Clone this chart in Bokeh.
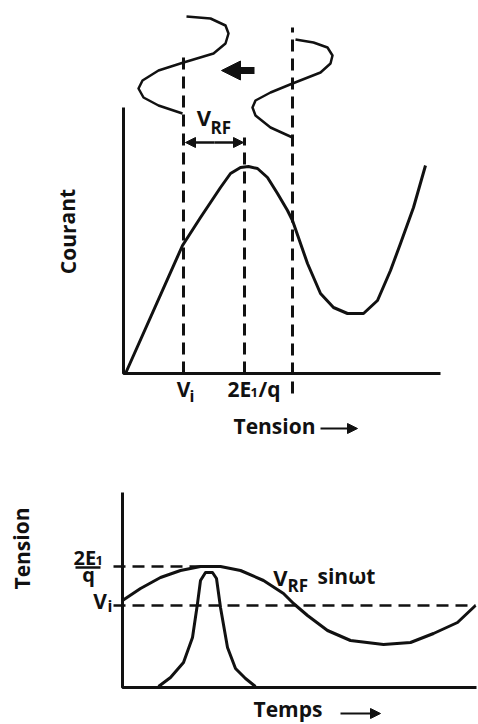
from bokeh.plotting import figure
from bokeh.models import Range1d, Arrow, NormalHead
from bokeh.layouts import column
from bokeh.core.properties import value
from bokeh.embed import file_html
from bokeh.resources import INLINE

FONT = "Open Sans"
INK = "#111111"

# ---------------- top panel: Courant vs Tension ----------------
top_axis_x = [0, 0, 317]
top_axis_y = [266, 0, 0]

# current-voltage characteristic
iv_tension = [2, 59, 77, 97, 107, 117, 125, 134, 144, 154, 164, 169, 184, 197, 210, 224, 240, 254, 267, 277, 290, 302]
iv_courant = [0, 128, 156, 186, 200, 206, 207, 205, 196, 180, 163, 153, 110, 80, 66, 60, 60, 73, 103, 130, 166, 208]

# dashed markers: V_i, 2E1/q, upper swing
mark_x = [60, 121, 169]
mark_top = [323, 236, 346]
mark_bottom = [0, 0, -20]

# RF sine sketches (drawn vertically above the characteristic)
wave1_x = [63, 87, 102, 105, 102, 90, 60, 35, 19, 15, 20, 35, 59]
wave1_y = [357, 355, 348, 340, 330, 320, 311, 303, 293, 285, 276, 268, 260]
wave2_x = [172, 190, 204, 209, 207, 197, 169, 147, 132, 129, 132, 147, 169]
wave2_y = [334, 331, 326, 318, 310, 301, 290, 281, 273, 266, 258, 246, 236]

# ---------------- bottom panel: Tension vs Temps ----------------
bot_axis_x = [0, 0, 354]
bot_axis_y = [195, 0, 0]

rf_temps = [0, 18, 38, 58, 78, 98, 118, 141, 161, 171, 185, 205, 228, 261, 288, 311, 335, 353]
rf_tension = [87, 99, 110, 117, 121, 121, 117, 107, 94, 84, 72, 57, 47, 43, 45, 54, 65, 82]

pulse_temps = [36, 48, 61, 70, 75, 78, 83, 90, 94, 98, 105, 113, 123, 133]
pulse_amp = [1, 10, 25, 50, 84, 107, 115, 115, 109, 80, 40, 19, 9, 1]

level_names = ["2E1/q", "Vi"]
level_y = [121, 82]
level_x0 = [-9, -9]
level_x1 = [80, 353]


def base_fig(h, xr, yr):
    p = figure(width=478, height=h, x_range=Range1d(*xr), y_range=Range1d(*yr),
               x_axis_location=None, y_axis_location=None, toolbar_location=None,
               output_backend="svg", min_border=0, outline_line_color=None,
               background_fill_color="white", border_fill_color="white")
    p.grid.visible = False
    return p


def txt(p, x, y, s, size, align="left", baseline="alphabetic", angle=0.0):
    if baseline == "alphabetic":
        y = y + 0.3 * size
    p.text(x=[x], y=[y], text=[s], text_font=value(FONT), text_font_style="bold",
           text_font_size=f"{size}px", text_align=align, text_baseline=baseline,
           angle=angle, text_color=INK)


def arrow(p, x0, y0, x1, y1, lw, hs):
    p.add_layout(Arrow(x_start=x0, y_start=y0, x_end=x1, y_end=y1, line_width=lw,
                       line_color=INK,
                       end=NormalHead(size=hs, fill_color=INK, line_color=INK, line_width=1)))


# ---- top ----
top = base_fig(450, (-123, 355), (-77, 373))
top.line(top_axis_x, top_axis_y, line_width=3, line_color=INK)
top.line(iv_tension, iv_courant, line_width=3, line_color=INK, line_join="round")
top.segment(x0=mark_x, y0=mark_bottom, x1=mark_x, y1=mark_top, line_width=3,
            line_color=INK, line_dash="12 7")
top.line(wave1_x, wave1_y, line_width=2.5, line_color=INK, line_join="round")
top.line(wave2_x, wave2_y, line_width=2.5, line_color=INK, line_join="round")

arrow(top, 131, 303, 98, 303, 7, 19)
arrow(top, 91, 231, mark_x[0] + 2, 231, 2.5, 10)
arrow(top, 91, 231, mark_x[1] - 1, 231, 2.5, 10)

txt(top, 80.5, 250, "V", 22, align="center")
txt(top, 87, 241, "RF", 17)
txt(top, mark_x[0], -22, "V", 21, align="center")
txt(top, 66, -27, "i", 16)
txt(top, 104, -22, "2E", 21)
txt(top, 127, -23, "1", 13)
txt(top, 135, -22, "/q", 21)
txt(top, 110, -59, "Tension", 21)
arrow(top, 197, -55, 234, -55, 2, 10)
txt(top, -56, 142, "Courant", 21, align="center", baseline="middle", angle=1.5708)

# ---- bottom ----
bot = base_fig(274, (-122, 356), (-37, 237))
bot.line(bot_axis_x, bot_axis_y, line_width=3, line_color=INK)
bot.segment(x0=level_x0, y0=level_y, x1=level_x1, y1=level_y, line_width=2.5,
            line_color=INK, line_dash="12 7")
bot.line(rf_temps, rf_tension, line_width=3, line_color=INK, line_join="round")
bot.line(pulse_temps, pulse_amp, line_width=3, line_color=INK, line_join="round")

txt(bot, -101, 139, "Tension", 21, align="center", baseline="middle", angle=1.5708)
txt(bot, -49, 124, "2E", 20)
txt(bot, -27, 123, "1", 13)
bot.segment(x0=[-47], y0=[level_y[0] - 1], x1=[-22], y1=[level_y[0] - 1], line_width=2.5, line_color=INK)
txt(bot, -34, 107, "q", 20, align="center")
txt(bot, -22.5, 80, "V", 21, align="center")
txt(bot, -15, 77, "i", 16)
txt(bot, 158, 104, "V", 22, align="center")
txt(bot, 165, 97, "RF", 17)
txt(bot, 195, 105, "sin\u03c9t", 21)
txt(bot, 131, -28, "Temps", 21)
arrow(bot, 218, -26, 258, -26, 2, 10)

layout = column(top, bot, spacing=0)
open("out.html", "w").write(file_html(layout, INLINE))
